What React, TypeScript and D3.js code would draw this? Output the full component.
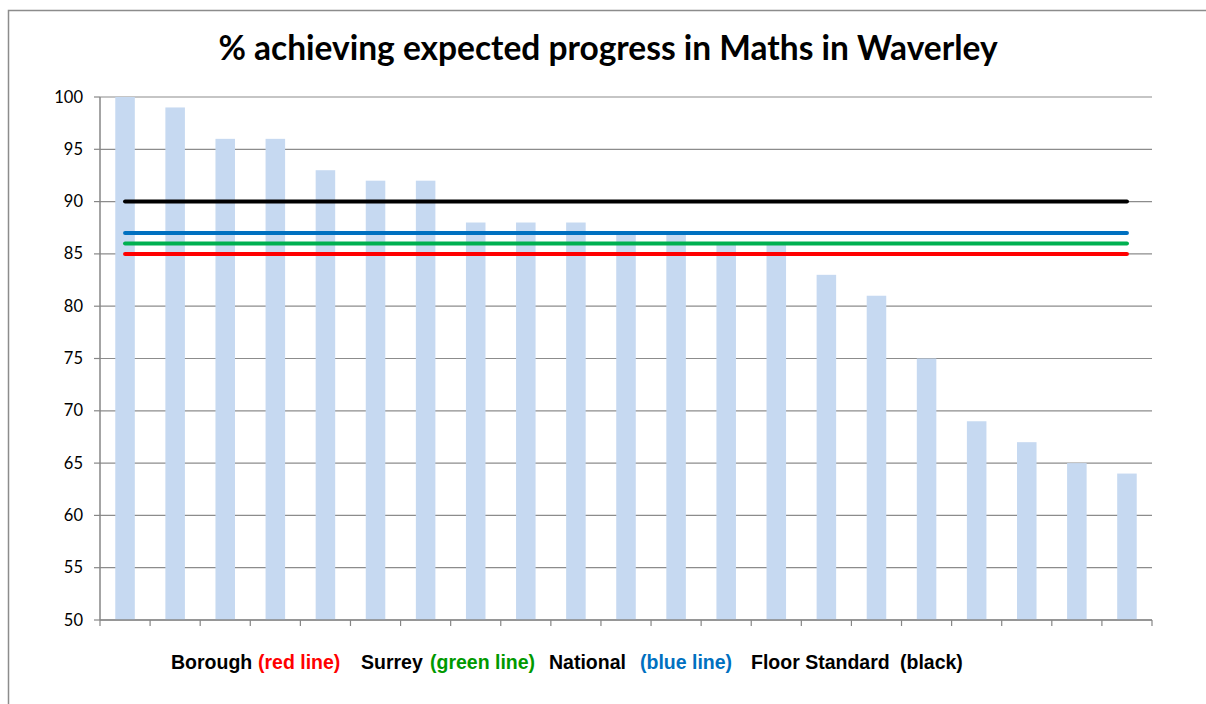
import React from 'react';
import * as d3 from 'd3';

// values
const schools = d3.range(1, 22).map(i => `S${i}`);
const pctMaths = [100, 99, 96, 96, 93, 92, 92, 88, 88, 88, 87, 87, 86, 86, 83, 81, 75, 69, 67, 65, 64];
const yTicks = [50, 55, 60, 65, 70, 75, 80, 85, 90, 95, 100];

const benchmarks = [
  { name: 'Floor Standard', value: 90, color: '#000000' },
  { name: 'National', value: 87, color: '#0070C0' },
  { name: 'Surrey', value: 86, color: '#00B050' },
  { name: 'Borough', value: 85, color: '#FF0000' },
];

const legendParts = [
  { text: 'Borough', color: '#000', x: 171 },
  { text: '(red line)', color: '#FF0000', x: 258 },
  { text: 'Surrey', color: '#000', x: 361 },
  { text: '(green line)', color: '#009900', x: 430 },
  { text: 'National', color: '#000', x: 549 },
  { text: '(blue line)', color: '#0070C0', x: 640 },
  { text: 'Floor Standard', color: '#000', x: 751 },
  { text: '(black)', color: '#000', x: 900 },
];

const W = 1206;
const H = 704;
const left = 100;
const right = 1152;
const top = 97;
const bottom = 620;

export default function App() {
  const x = d3.scaleBand().domain(schools).range([left, right]).paddingInner(0);
  const y = d3.scaleLinear().domain([50, 100]).range([bottom, top]);
  const barW = x.bandwidth() * 0.39;
  const firstC = x(schools[0])! + x.bandwidth() / 2;
  const lastC = x(schools[schools.length - 1])! + x.bandwidth() / 2;

  return (
    <svg width={W} height={H} style={{ position: 'absolute', left: 0, top: 0, background: '#fff' }}>
      <rect x={8.5} y={10.5} width={W + 20} height={H + 20} fill="#fff" stroke="#8c8c8c" strokeWidth={1.5} />

      <text x={608} y={60} textAnchor="middle" fontFamily="Lato, 'Open Sans', sans-serif" fontWeight="bold" fontSize={33.5} fill="#000">
        % achieving expected progress in Maths in Waverley
      </text>

      {/* gridlines */}
      {yTicks.map(t => (
        <line key={t} x1={left} x2={right} y1={y(t)} y2={y(t)} stroke="#8c8c8c" strokeWidth={1.2} />
      ))}

      {/* bars */}
      {pctMaths.map((v, i) => {
        const cx = x(schools[i])! + x.bandwidth() / 2;
        return <rect key={i} x={cx - barW / 2} y={y(v)} width={barW} height={y(50) - y(v)} fill="#C6D9F1" />;
      })}

      {/* benchmark lines */}
      {benchmarks.map(b => (
        <line key={b.name} x1={firstC} x2={lastC} y1={y(b.value)} y2={y(b.value)} stroke={b.color} strokeWidth={4} strokeLinecap="round" />
      ))}

      {/* y axis */}
      <line x1={left} x2={left} y1={top} y2={bottom} stroke="#868686" strokeWidth={1.5} />
      {yTicks.map(t => (
        <g key={t}>
          <line x1={left - 6} x2={left} y1={y(t)} y2={y(t)} stroke="#868686" strokeWidth={1.2} />
          <text x={83} y={y(t) + 5.5} textAnchor="end" fontFamily="Lato, 'Open Sans', sans-serif" fontSize={16.5} fill="#000">{t}</text>
        </g>
      ))}

      {/* x axis */}
      <line x1={left} x2={right} y1={bottom} y2={bottom} stroke="#868686" strokeWidth={1.5} />
      {d3.range(schools.length + 1).map(i => {
        const xx = left + i * x.step();
        return <line key={i} x1={xx} x2={xx} y1={bottom} y2={bottom + 6} stroke="#868686" strokeWidth={1.2} />;
      })}

      {/* legend text */}
      {legendParts.map((p, i) => (
        <text key={i} x={p.x} y={669} fill={p.color} fontFamily="'Liberation Sans', Arial, sans-serif" fontWeight="bold" fontSize={19.5}>
          {p.text}
        </text>
      ))}
    </svg>
  );
}
